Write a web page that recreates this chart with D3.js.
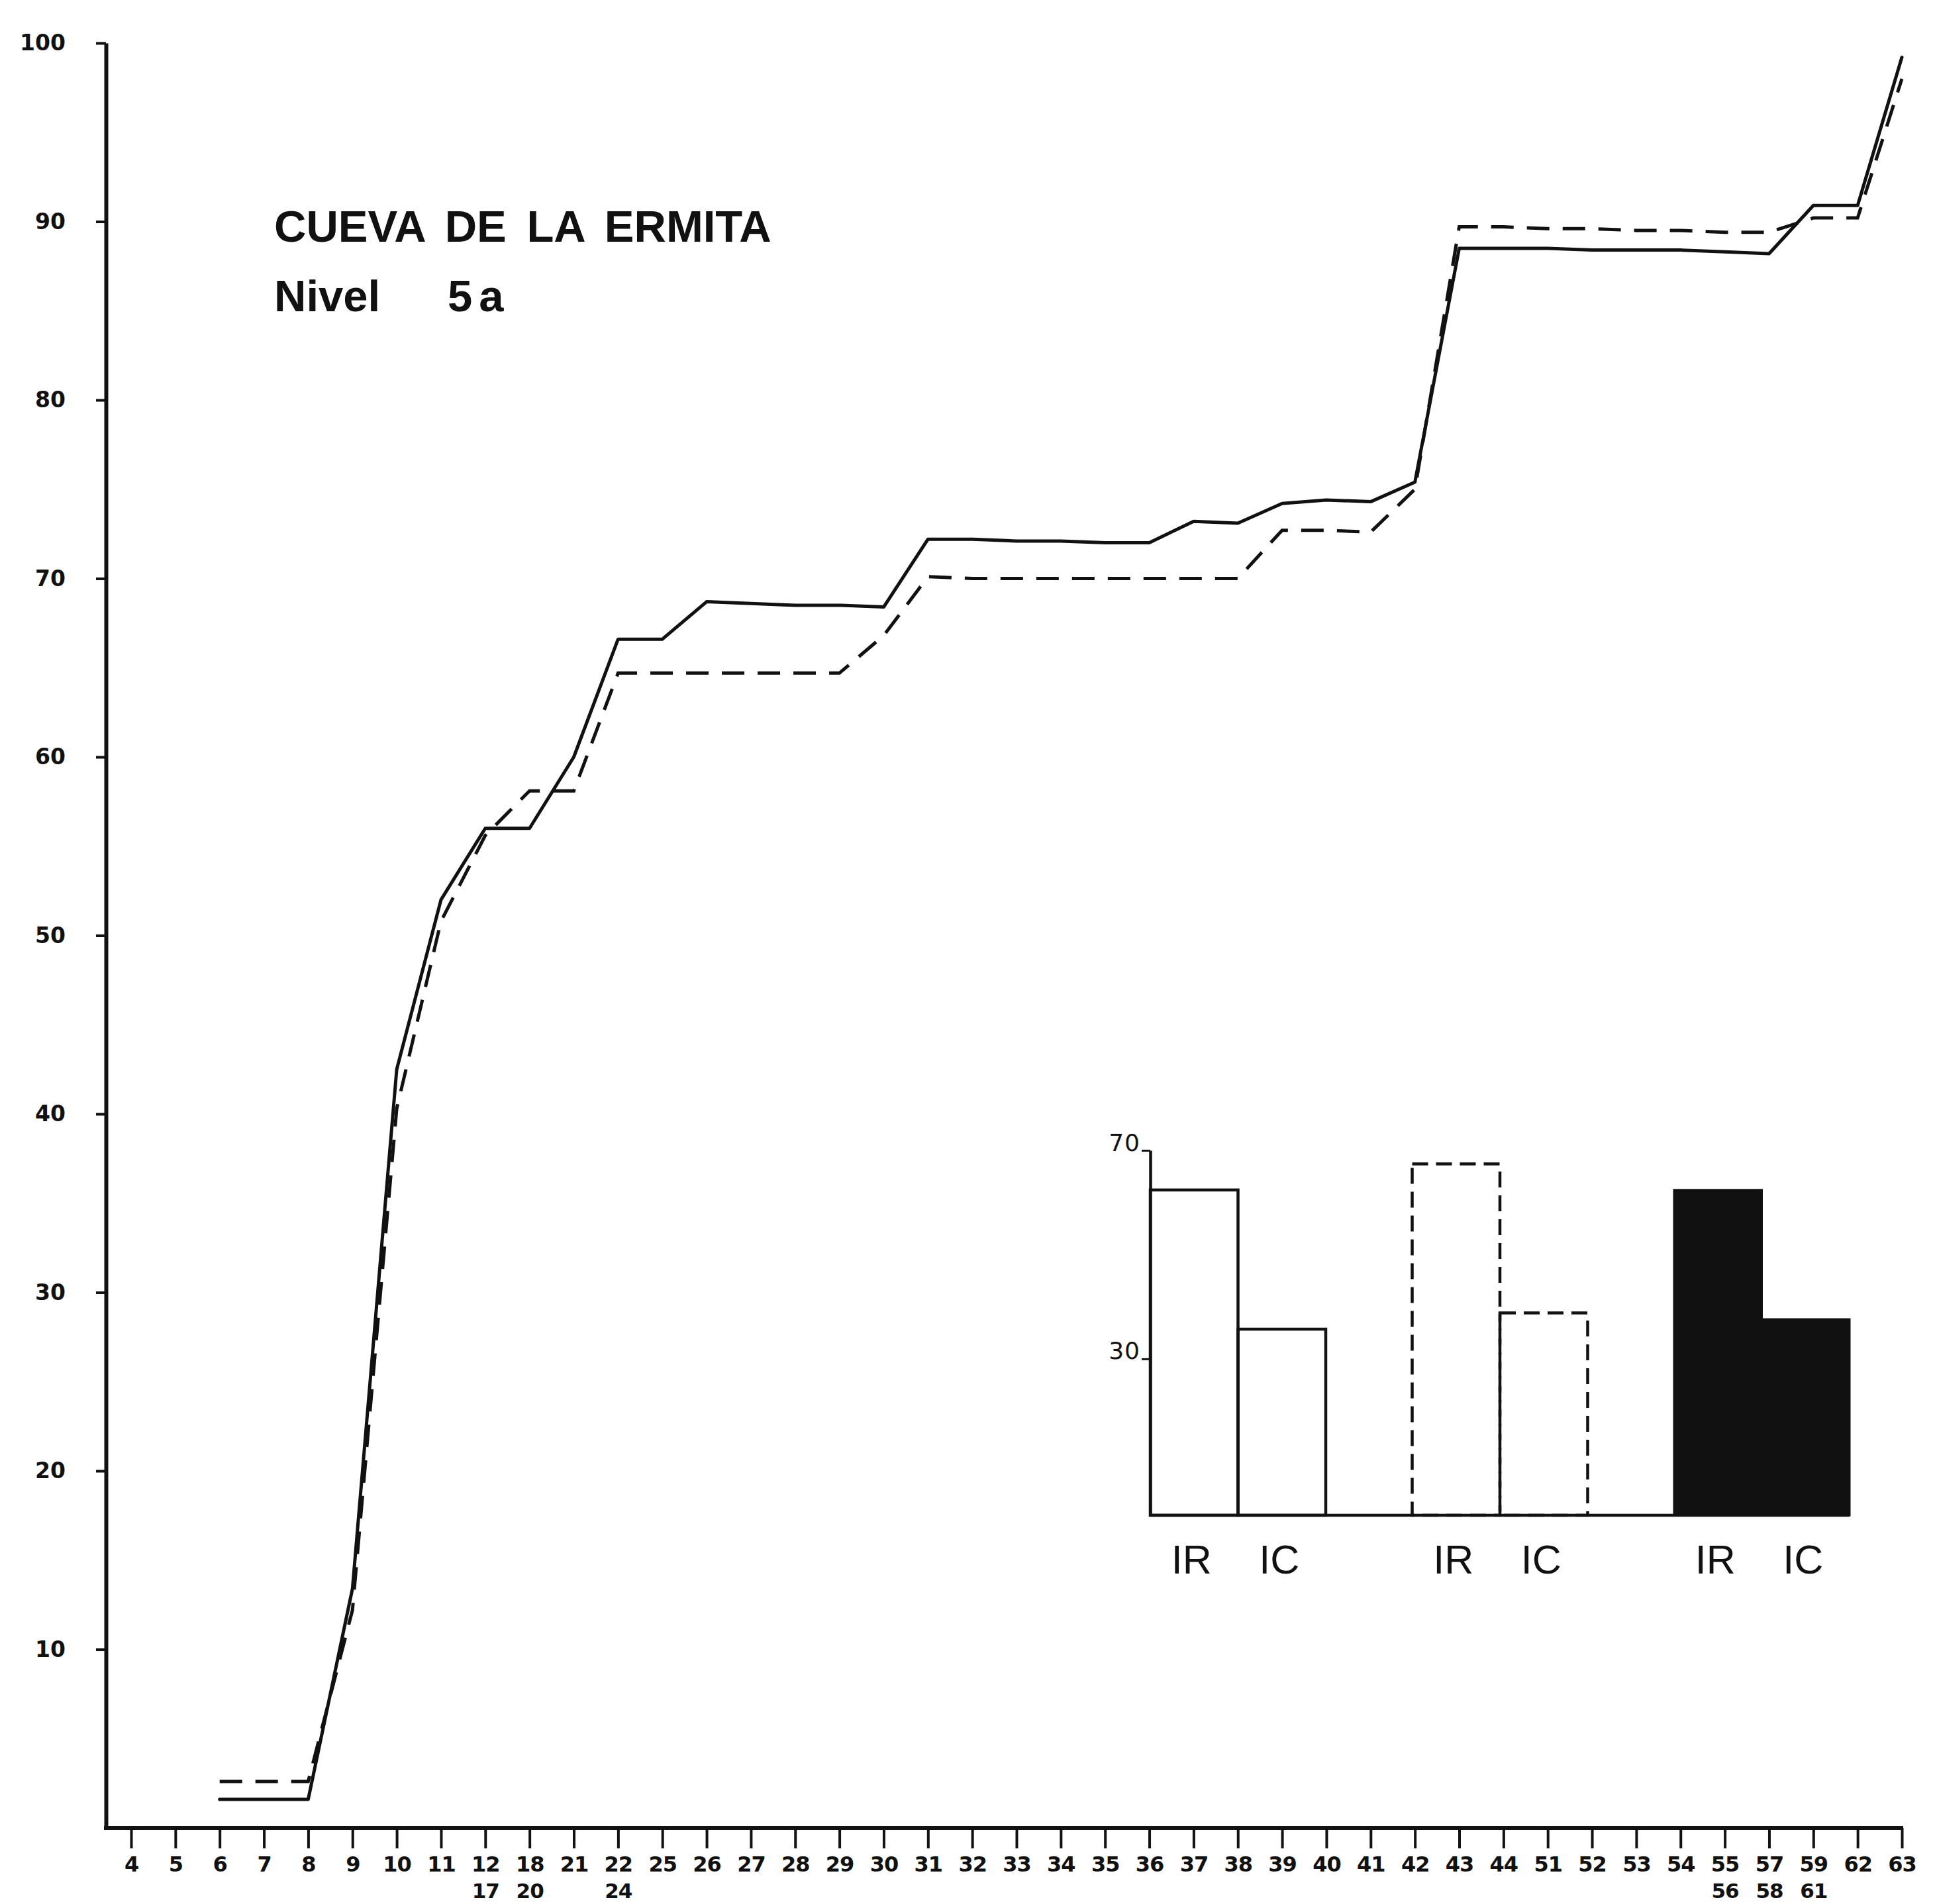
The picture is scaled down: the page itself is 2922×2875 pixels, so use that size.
<!DOCTYPE html>
<html>
<head>
<meta charset="utf-8">
<script src="https://cdn.jsdelivr.net/npm/d3@7"></script>
<style>
  html, body { margin: 0; padding: 0; background: #fff; }
  svg { display: block; }
</style>
</head>
<body>
<script>
// ---------- DATA ----------
const categories = ["4","5","6","7","8","9","10","11","12","18","21","22","25","26","27","28","29","30","31","32","33","34","35","36","37","38","39","40","41","42","43","44","51","52","53","54","55","57","59","62","63"];
const subLabels = {"12":"17","18":"20","22":"24","55":"56","57":"58","59":"61"};

// solid curve (cumulative %)
const solidValues = [null,null,1.6,1.6,1.6,13.4,42.5,52,56,56,60,66.6,66.6,68.7,68.6,68.5,68.5,68.4,72.2,72.2,72.1,72.1,72.0,72.0,73.2,73.1,74.2,74.4,74.3,75.4,88.5,88.5,88.5,88.4,88.4,88.4,88.3,88.2,90.9,90.9,99.2];
// dashed curve (cumulative %)
const dashedValues = [null,null,2.6,2.6,2.6,12.2,40.3,50.8,55.6,58.1,58.1,64.7,64.7,64.7,64.7,64.7,64.7,66.8,70.1,70.0,70.0,70.0,70.0,70.0,70.0,70.0,72.7,72.7,72.6,75.0,89.7,89.7,89.6,89.6,89.5,89.5,89.4,89.4,90.2,90.2,98.0];

const yTicks = [10,20,30,40,50,60,70,80,90,100];

// inset bars
const insetGroups = ["solid","dashed","filled"];
const insetIndices = ["IR","IC"];
const insetValues = {solid:[62.4,35.7], dashed:[67.4,38.8], filled:[62.4,37.6]};
const insetTicks = [30,70];

const titleLine1 = "CUEVA DE LA ERMITA";
const titleLine2a = "Nivel";
const titleLine2b = "5a";

// ---------- DRAW ----------
const W = 2922, H = 2875;
const ink = "#111";
const svg = d3.select("body").append("svg").attr("width", W).attr("height", H)
  .style("background", "#fff");

const x = d3.scalePoint().domain(categories).range([198, 2872]);
const y = d3.scaleLinear().domain([0,100]).range([2760, 65]);
const axisX0 = 160;

// Y axis
const yAxis = d3.axisLeft(y).tickValues(yTicks).tickSize(15).tickSizeOuter(0).tickPadding(46);
const gy = svg.append("g").attr("transform", `translate(${axisX0},0)`).call(yAxis);
gy.select(".domain").attr("stroke", ink).attr("stroke-width", 6);
gy.selectAll(".tick line").attr("stroke", ink).attr("stroke-width", 4);
gy.selectAll(".tick text").attr("fill", ink)
  .style("font-family", "'DejaVu Sans', sans-serif").style("font-weight", "bold").style("font-size", "33px");

// X axis
const xAxis = d3.axisBottom(x).tickSize(31).tickSizeOuter(0).tickPadding(12);
const gx = svg.append("g").attr("transform", `translate(0,${y(0)})`).call(xAxis);
gx.select(".domain").remove();
gx.append("line").attr("x1", axisX0 - 3).attr("x2", x("63") + 2).attr("y1", 0).attr("y2", 0)
  .attr("stroke", ink).attr("stroke-width", 6);
gx.selectAll(".tick line").attr("stroke", ink).attr("stroke-width", 4);
gx.selectAll(".tick text").attr("fill", ink)
  .style("font-family", "'DejaVu Sans', sans-serif").style("font-weight", "bold").style("font-size", "32px")
  .style("letter-spacing", "-1px");
gx.selectAll(".tick").filter(d => subLabels[d]).append("text")
  .attr("y", 106).attr("text-anchor", "middle").attr("fill", ink)
  .style("font-family", "'DejaVu Sans', sans-serif").style("font-weight", "bold").style("font-size", "31px")
  .style("letter-spacing", "-1px")
  .text(d => subLabels[d]);

// Lines
const line = d3.line()
  .defined(d => d.v !== null)
  .x(d => x(d.c)).y(d => y(d.v));

const solidData = categories.map((c,i) => ({c, v: solidValues[i]}));
const dashedData = categories.map((c,i) => ({c, v: dashedValues[i]}));

svg.append("path").datum(dashedData).attr("d", line)
  .attr("fill", "none").attr("stroke", ink).attr("stroke-width", 5)
  .attr("stroke-dasharray", "34,20");
svg.append("path").datum(solidData).attr("d", line)
  .attr("fill", "none").attr("stroke", ink).attr("stroke-width", 5)
  .attr("stroke-linejoin", "round").attr("stroke-linecap", "round");

// Title
svg.append("text").attr("x", 414).attr("y", 365).attr("fill", ink)
  .style("font-family", "'Liberation Sans', Arial, sans-serif").style("font-weight", "bold")
  .style("font-size", "67px").style("word-spacing", "12px")
  .text(titleLine1);
svg.append("text").attr("x", 414).attr("y", 470).attr("fill", ink)
  .style("font-family", "'Liberation Sans', Arial, sans-serif").style("font-weight", "bold")
  .style("font-size", "67px")
  .text(titleLine2a);
svg.append("text").attr("x", 676).attr("y", 470).attr("fill", ink)
  .style("font-family", "'Liberation Sans', Arial, sans-serif").style("font-weight", "bold")
  .style("font-size", "67px").style("letter-spacing", "10px")
  .text(titleLine2b);

// ---------- INSET ----------
const iy = d3.scaleLinear().domain([0,70]).range([2288, 1737]);
const gxBand = d3.scaleBand().domain(insetGroups).range([1737, 2793]).paddingInner(0.33).paddingOuter(0);
const subBand = d3.scaleBand().domain(insetIndices).range([0, gxBand.bandwidth()]).padding(0);
const insetX0 = gxBand("solid");

const inset = svg.append("g");
// baseline
inset.append("line").attr("x1", insetX0).attr("x2", gxBand("filled") + gxBand.bandwidth())
  .attr("y1", iy(0)).attr("y2", iy(0)).attr("stroke", ink).attr("stroke-width", 4.5);
// axis
const iAxis = d3.axisLeft(iy).tickValues(insetTicks).tickSize(13).tickSizeOuter(0).tickPadding(2);
const giy = inset.append("g").attr("transform", `translate(${insetX0},0)`).call(iAxis);
giy.select(".domain").attr("stroke", ink).attr("stroke-width", 4.5);
giy.selectAll(".tick line").attr("stroke", ink).attr("stroke-width", 3);
giy.selectAll(".tick text").attr("fill", ink).attr("dy", "0")
  .style("font-family", "'DejaVu Sans', sans-serif").style("font-size", "36px")
  .style("letter-spacing", "1px");

insetGroups.forEach(g => {
  const gg = inset.append("g").attr("transform", `translate(${gxBand(g)},0)`);
  insetIndices.forEach((k, i) => {
    const v = insetValues[g][i];
    const r = gg.append("rect")
      .attr("x", subBand(k)).attr("width", subBand.bandwidth())
      .attr("y", iy(v)).attr("height", iy(0) - iy(v));
    if (g === "filled") {
      r.attr("fill", ink).attr("stroke", ink).attr("stroke-width", 3);
    } else {
      r.attr("fill", "none").attr("stroke", ink).attr("stroke-width", 4.5);
      if (g === "dashed") r.attr("stroke-dasharray", "24,12");
    }
    gg.append("text")
      .attr("x", subBand(k) + subBand.bandwidth()/2 - 4)
      .attr("y", 2376).attr("text-anchor", "middle").attr("fill", ink)
      .style("font-family", "'Liberation Sans', Arial, sans-serif").style("font-size", "61px")
      .text(k);
  });
});
</script>
</body>
</html>
